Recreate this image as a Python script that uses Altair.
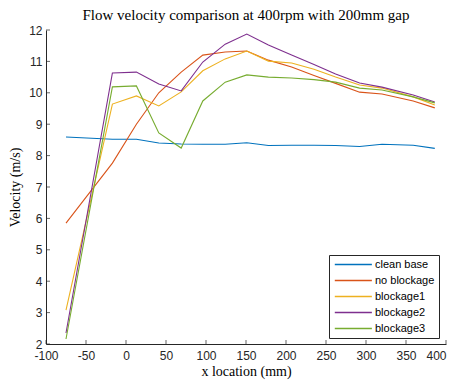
import altair as alt
import pandas as pd

x_mm = [-75, -17, 13, 41, 69, 96, 124, 151, 178, 207, 235, 262, 292, 320, 359, 386]
clean_base = [8.59, 8.52, 8.52, 8.40, 8.37, 8.36, 8.36, 8.41, 8.32, 8.33, 8.33, 8.32, 8.29, 8.36, 8.33, 8.23]
no_blockage = [5.85, 7.76, 9.00, 10.00, 10.66, 11.20, 11.30, 11.33, 11.04, 10.82, 10.55, 10.30, 10.02, 9.96, 9.74, 9.52]
blockage1 = [3.08, 9.64, 9.90, 9.58, 10.03, 10.70, 11.08, 11.33, 11.01, 10.95, 10.75, 10.50, 10.25, 10.15, 9.87, 9.61]
blockage2 = [2.35, 10.63, 10.66, 10.28, 10.06, 10.98, 11.55, 11.87, 11.52, 11.20, 10.90, 10.60, 10.31, 10.18, 9.93, 9.71]
blockage3 = [2.16, 10.19, 10.22, 8.72, 8.24, 9.74, 10.34, 10.57, 10.50, 10.47, 10.42, 10.34, 10.15, 10.09, 9.87, 9.68]

series_names = ["clean base", "no blockage", "blockage1", "blockage2", "blockage3"]
series_colors = ["#0072BD", "#D95319", "#EDB120", "#7E2F8E", "#77AC30"]
x_ticks = [-100, -50, 0, 50, 100, 150, 200, 250, 300, 350, 400]
y_ticks = [2, 3, 4, 5, 6, 7, 8, 9, 10, 11, 12]

rows = []
for name, vals in zip(series_names, [clean_base, no_blockage, blockage1, blockage2, blockage3]):
    for i, (xv, yv) in enumerate(zip(x_mm, vals)):
        rows.append({"x": xv, "v": yv, "series": name, "order": i})
df = pd.DataFrame(rows)

axis_col = "#262626"
xscale = alt.Scale(domain=[-100, 400], nice=False, zero=False)
yscale = alt.Scale(domain=[2, 12], nice=False, zero=False)

xaxis = alt.Axis(values=x_ticks, tickSize=0, labelPadding=6, titlePadding=3,
                 labelFont="Liberation Sans", labelFontSize=12, labelColor=axis_col,
                 labelExpr="replace(datum.label, '\u2212', '-')",
                 labelAlign={"expr": "datum.value >= 400 ? 'right' : 'center'"},
                 labelBound=False,
                 titleFont="Liberation Serif", titleFontSize=14, titleFontWeight="normal",
                 titleColor="#000000", domainColor=axis_col, grid=False, labelFlush=False,
                 labelOverlap=False, title="x location (mm)")
yaxis = alt.Axis(values=y_ticks, tickSize=0, labelPadding=4, titlePadding=6,
                 labelFont="Liberation Sans", labelFontSize=12, labelColor=axis_col,
                 titleFont="Liberation Serif", titleFontSize=14, titleFontWeight="normal",
                 titleColor="#000000", domainColor=axis_col, grid=False, labelFlush=False,
                 labelOverlap=False, title="Velocity (m/s)")

lines = alt.Chart(df).mark_line(strokeWidth=1.1).encode(
    x=alt.X("x:Q", scale=xscale, axis=xaxis),
    y=alt.Y("v:Q", scale=yscale, axis=yaxis),
    color=alt.Color("series:N", scale=alt.Scale(domain=series_names, range=series_colors),
                    legend=alt.Legend(title=None, orient="none", legendX=283, legendY=225,
                                      symbolType="M-1,0H9", symbolSize=55, symbolStrokeWidth=1.3,
                                      symbolFillColor="transparent",
                                      labelFont="Liberation Sans", labelFontSize=11, labelColor="#000000",
                                      strokeColor=axis_col, fillColor="white", padding=4,
                                      rowPadding=4, labelOffset=31)),
    order="order:Q",
)

xt = pd.DataFrame({"t": x_ticks})
yt = pd.DataFrame({"t": y_ticks})
xtick_marks = alt.Chart(xt).mark_tick(orient="vertical", size=4, thickness=1, color=axis_col, yOffset=-2).encode(
    x=alt.X("t:Q", scale=xscale, axis=xaxis),
    y=alt.YDatum(2, scale=yscale, axis=yaxis))
ytick_marks = alt.Chart(yt).mark_tick(orient="horizontal", size=4, thickness=1, color=axis_col, xOffset=2).encode(
    y=alt.Y("t:Q", scale=yscale, axis=yaxis),
    x=alt.XDatum(-100, scale=xscale, axis=xaxis))

chart = alt.layer(lines, xtick_marks, ytick_marks).properties(
    width=400, height=314,
    padding={"left": 38, "top": 22, "right": 2, "bottom": 36},
    autosize="none",
    title=alt.TitleParams("Flow velocity comparison at 400rpm with 200mm gap",
                          font="Liberation Serif", fontSize=15, fontWeight="normal",
                          color="#000000", offset=1, anchor="middle"),
).configure_view(stroke=None)

chart.save("out.html", embed_options={"renderer": "svg", "actions": False})
